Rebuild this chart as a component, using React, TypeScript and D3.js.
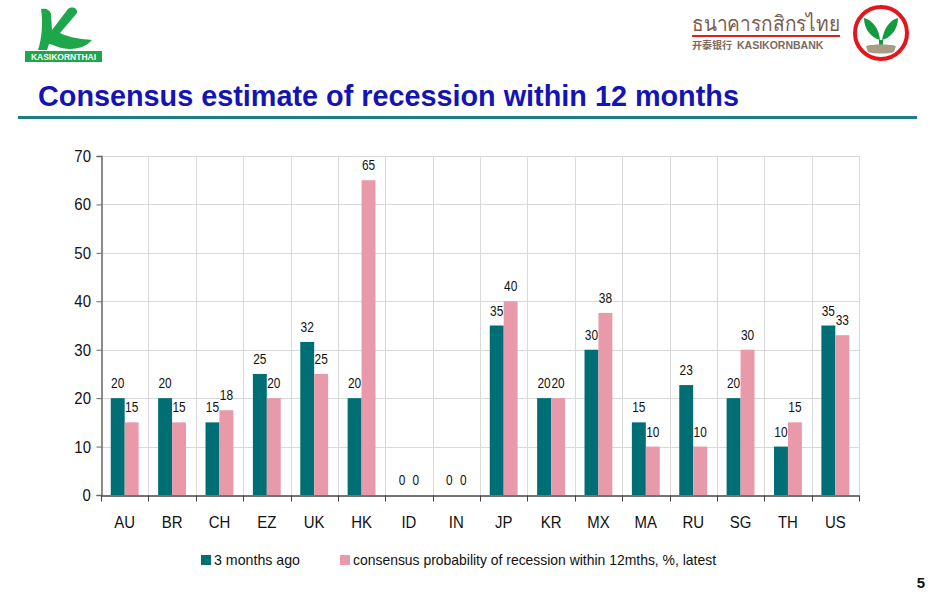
import React, { useEffect, useRef } from 'react';
import * as d3 from 'd3';

// Countries on the x axis
const countries = ['AU', 'BR', 'CH', 'EZ', 'UK', 'HK', 'ID', 'IN', 'JP', 'KR', 'MX', 'MA', 'RU', 'SG', 'TH', 'US'];
// Probability of recession, %, 3 months ago
const threeMonthsAgo = [20, 20, 15, 25, 31.6, 20, 0, 0, 35, 20, 30, 15, 22.7, 20, 10, 35];
// Probability of recession, %, latest
const latest = [15, 15, 17.5, 20, 25, 65, 0, 0, 40, 20, 37.6, 10, 10, 30, 15, 33];
const seriesNames = ['3 months ago', 'consensus probability of recession within 12mths, %, latest'];
const yTicks = [0, 10, 20, 30, 40, 50, 60, 70];

const TEAL = '#006F75';
const PINK = '#E89AAA';
const SANS = '"Liberation Sans", Arial, sans-serif';

const App = () => {
  const ref = useRef<SVGSVGElement>(null);

  useEffect(() => {
    if (!ref.current) return;
    const svg = d3.select(ref.current);
    svg.selectAll('*').remove();

    const left = 101, right = 859, top = 156, bottom = 495;

    const x = d3.scaleBand<string>().domain(countries).range([left, right]).paddingInner(0).paddingOuter(0);
    const y = d3.scaleLinear().domain([0, 70]).range([bottom, top]);
    const inner = d3.scaleBand<number>().domain([0, 1]).range([0, x.bandwidth()]).paddingOuter(0.7).paddingInner(0);

    // ---- header ----
    const logo = svg.append('g');
    logo.append('path')
      .attr('d', 'M41,9 C46,8 50,10 51,14 L52,30 L68,9 C72,6 78,8 77,13 L60,33 C70,38 82,39 92,40 C88,45 80,49 70,49 C60,49 52,44 49,44 L47,50 L38,50 C42,38 43,22 41,9 Z')
      .attr('fill', '#1DA64A');
    logo.append('rect').attr('x', 25).attr('y', 51).attr('width', 77).attr('height', 11).attr('fill', '#1DA64A');
    logo.append('text').attr('x', 63.5).attr('y', 60).attr('text-anchor', 'middle')
      .attr('fill', '#fff').style('font', `bold 8.5px ${SANS}`).text('KASIKORNTHAI');

    const bank = svg.append('g');
    bank.append('text').attr('x', 766).attr('y', 31).attr('text-anchor', 'middle')
      .attr('fill', '#7A5C4E').style('font', '21px "Noto Sans", sans-serif')
      .attr('textLength', 148).attr('lengthAdjust', 'spacingAndGlyphs').text('ธนาคารกสิกรไทย');
    bank.append('rect').attr('x', 692).attr('y', 35).attr('width', 148).attr('height', 2).attr('fill', '#E0201E');
    bank.append('text').attr('x', 692).attr('y', 49).attr('fill', '#7A6A62')
      .style('font', 'bold 10px "Noto Sans CJK SC", sans-serif').text('开泰银行');
    bank.append('text').attr('x', 737).attr('y', 49).attr('fill', '#7A6A62')
      .style('font', `bold 10.5px ${SANS}`).text('KASIKORNBANK');
    bank.append('circle').attr('cx', 881).attr('cy', 33).attr('r', 26).attr('fill', '#fff')
      .attr('stroke', '#E2161C').attr('stroke-width', 4);
    bank.append('path').attr('d', 'M880,40 C872,38 864,30 864,18 C872,20 879,28 880,40 Z').attr('fill', '#159A3E');
    bank.append('path').attr('d', 'M882,40 C884,28 890,20 898,18 C898,30 890,38 882,40 Z').attr('fill', '#159A3E');
    bank.append('path').attr('d', 'M879,40 L879,46 L883,46 L883,40 Z').attr('fill', '#159A3E');
    bank.append('path').attr('d', 'M866,46 C872,44 890,44 896,46 L894,52 C888,54 874,54 868,52 Z').attr('fill', '#A89C86');

    svg.append('text').attr('x', 38).attr('y', 106).attr('fill', '#1414B4')
      .style('font', `bold 28.8px ${SANS}`)
      .text('Consensus estimate of recession within 12 months');
    svg.append('rect').attr('x', 18).attr('y', 116).attr('width', 899).attr('height', 3).attr('fill', '#1E7F80');

    // ---- grid ----
    const grid = svg.append('g').attr('stroke', '#D9D9D9').attr('stroke-width', 1);
    yTicks.filter(t => t > 0).forEach(t => {
      grid.append('line').attr('x1', left).attr('x2', right).attr('y1', Math.round(y(t)) + 0.5).attr('y2', Math.round(y(t)) + 0.5);
    });
    countries.forEach(c => {
      const xe = Math.round((x(c) as number) + x.bandwidth()) + 0.5;
      grid.append('line').attr('x1', xe).attr('x2', xe).attr('y1', top).attr('y2', bottom);
    });

    // ---- bars ----
    const series = [threeMonthsAgo, latest];
    const colors = [TEAL, PINK];
    series.forEach((vals, si) => {
      const g = svg.append('g');
      g.selectAll('rect').data(vals).enter().append('rect')
        .attr('x', (d, i) => (x(countries[i]) as number) + (inner(si) as number))
        .attr('width', inner.bandwidth())
        .attr('y', d => y(d))
        .attr('height', d => bottom - y(d))
        .attr('fill', colors[si]);
      // narrow value labels: squeeze Arial horizontally
      g.selectAll('text').data(vals).enter().append('text')
        .attr('transform', (d, i) => {
          const cx = (x(countries[i]) as number) + (inner(si) as number) + inner.bandwidth() / 2;
          return `translate(${cx},${y(d) - 10}) scale(0.85,1)`;
        })
        .attr('text-anchor', 'middle')
        .attr('fill', '#111')
        .style('font', `14px ${SANS}`)
        .text(d => d3.format('.0f')(d));
    });

    // ---- axes ----
    const yAxis = svg.append('g').attr('transform', `translate(${left + 0.5},0)`)
      .call(d3.axisLeft(y).tickValues(yTicks).tickSize(5).tickPadding(7).tickFormat(d3.format('d')));
    yAxis.select('.domain').attr('stroke', '#666').attr('stroke-width', 1.5);
    yAxis.selectAll('.tick line').attr('stroke', '#666');
    yAxis.selectAll('text').style('font', `17px ${SANS}`).attr('fill', '#111')
      .attr('transform', 'scale(0.88,1)');

    const xAxis = svg.append('g').attr('transform', `translate(0,${bottom + 0.5})`)
      .call(d3.axisBottom(x).tickSize(0).tickPadding(20));
    xAxis.select('.domain').attr('stroke', '#444').attr('stroke-width', 1.5);
    xAxis.selectAll('text').style('font', `17px ${SANS}`).attr('fill', '#111')
      .attr('transform', 'scale(0.88,1)');
    [left, ...countries.map(c => (x(c) as number) + x.bandwidth())].forEach(xe => {
      xAxis.append('line').attr('x1', Math.round(xe) + 0.5).attr('x2', Math.round(xe) + 0.5)
        .attr('y1', 0).attr('y2', 6).attr('stroke', '#444');
    });

    // ---- legend ----
    const legendX = [201, 340];
    const legendLen = [86, 363];
    seriesNames.forEach((name, i) => {
      const lg = svg.append('g').attr('transform', `translate(${legendX[i]},555)`);
      lg.append('rect').attr('width', 10).attr('height', 10).attr('fill', colors[i]);
      lg.append('text').attr('x', 13).attr('y', 10).attr('fill', '#111')
        .attr('textLength', legendLen[i]).attr('lengthAdjust', 'spacingAndGlyphs')
        .style('font', `15px ${SANS}`).text(name);
    });

    svg.append('text').attr('x', 921).attr('y', 588).attr('text-anchor', 'middle')
      .attr('fill', '#111').style('font', `bold 15px ${SANS}`).text('5');
  }, []);

  return (
    <svg ref={ref} width={935} height={597}
      style={{ position: 'absolute', left: 0, top: 0, background: '#fff' }} />
  );
};

export default App;
